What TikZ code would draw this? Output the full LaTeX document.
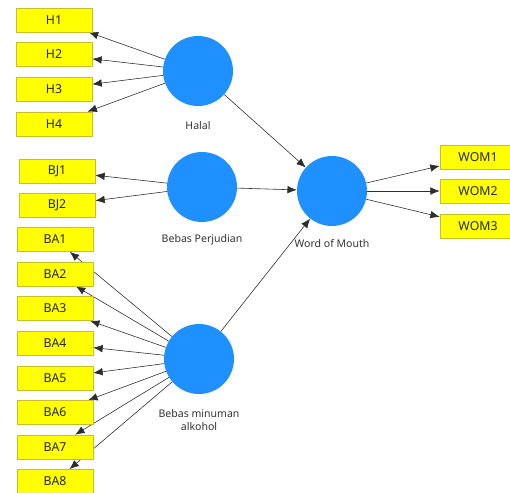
\documentclass[tikz,border=0pt]{standalone}
\usepackage{fontspec}
\setmainfont{Noto Sans}
\usepackage{tikz}
\usetikzlibrary{arrows.meta,backgrounds}

\definecolor{lvblue}{RGB}{30,144,255}
\definecolor{indyellow}{RGB}{255,255,0}
\definecolor{indborder}{RGB}{200,190,40}
\definecolor{pathgray}{RGB}{45,45,45}

\tikzset{
  latent/.style={circle, fill=lvblue, draw=none, minimum size=2.1cm, inner sep=0pt},
  indicator/.style={rectangle, fill=indyellow, draw=indborder, line width=0.6pt,
    minimum width=2.28cm, minimum height=0.72cm, inner sep=0pt,
    font=\fontsize{10.5}{12}\selectfont, text=black!85},
  lvlabel/.style={font=\fontsize{9}{11}\selectfont, align=center, text=black!80},
  loading/.style={draw=pathgray, line width=0.5pt, -{Latex[length=2.8mm,width=2.3mm]}},
}

\begin{document}
\begin{tikzpicture}[x=0.03cm,y=-0.03cm]
  \useasboundingbox (0,0) rectangle (510,492);

  % latent variables
  \node[latent] (halal) at (198,71) {};
  \node[latent] (bj)    at (202,187) {};
  \node[latent] (ba)    at (199,359) {};
  \node[latent] (wom)   at (332,191) {};

  \node[lvlabel] (halallbl) at (198,126) {Halal};
  \node[lvlabel] (bjlbl)    at (202,240) {Bebas Perjudian};
  \node[lvlabel] (balbl)    at (199,420) {Bebas minuman\\alkohol};
  \node[lvlabel] (womlbl)   at (332,244) {Word of Mouth};

  % indicators Halal
  \node[indicator] (h1) at (54,20)  {H1};
  \node[indicator] (h2) at (54,54.5) {H2};
  \node[indicator] (h3) at (54,89)  {H3};
  \node[indicator] (h4) at (54,124) {H4};

  % indicators Bebas Perjudian
  \node[indicator] (bj1) at (57,171)   {BJ1};
  \node[indicator] (bj2) at (57,205.5) {BJ2};

  % indicators Bebas minuman alkohol
  \node[indicator] (ba1) at (55,239.5) {BA1};
  \node[indicator] (ba2) at (55,274)   {BA2};
  \node[indicator] (ba3) at (55,308.5) {BA3};
  \node[indicator] (ba4) at (55,343.5) {BA4};
  \node[indicator] (ba5) at (55,378)   {BA5};
  \node[indicator] (ba6) at (55,412.5) {BA6};
  \node[indicator] (ba7) at (55,447)   {BA7};
  \node[indicator] (ba8) at (55,481.5) {BA8};

  % indicators Word of Mouth
  \node[indicator] (wom1) at (478,157) {WOM1};
  \node[indicator] (wom2) at (478,191) {WOM2};
  \node[indicator] (wom3) at (478,226) {WOM3};

  \begin{pgfonlayer}{background}
    \foreach \ind in {h1,h2,h3,h4}
      \draw[loading] (halal) -- (\ind);
    \foreach \ind in {bj1,bj2}
      \draw[loading] (bj) -- (\ind);
    \foreach \ind in {ba1,ba2,ba3,ba4,ba5,ba6,ba7,ba8}
      \draw[loading] (ba) -- (\ind);
    \foreach \ind in {wom1,wom2,wom3}
      \draw[loading] (wom) -- (\ind);
    % structural paths
    \draw[loading] (halal) -- (wom);
    \draw[loading] (bj) -- (wom);
    \draw[loading] (ba) -- (wom);
  \end{pgfonlayer}
\end{tikzpicture}
\end{document}
